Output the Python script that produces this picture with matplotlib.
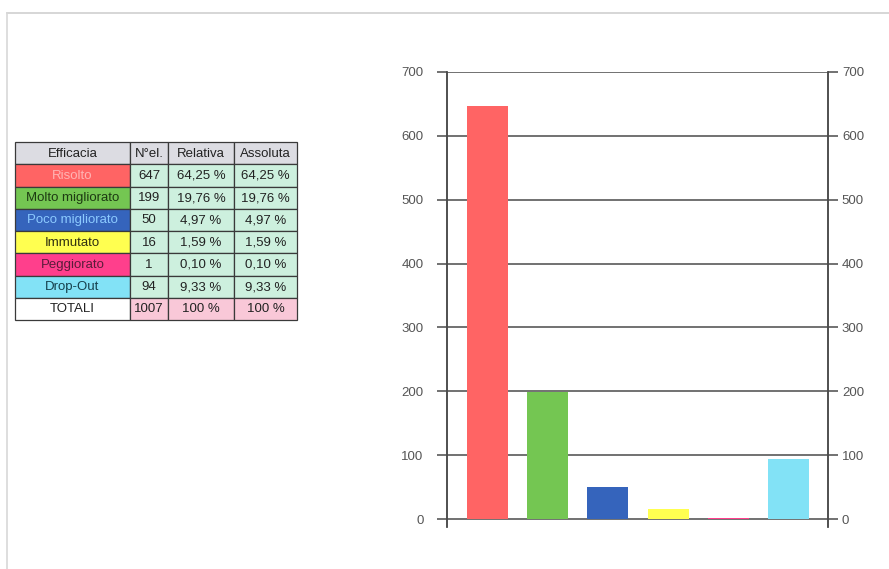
import matplotlib.pyplot as plt
from matplotlib.patches import Rectangle
from matplotlib.lines import Line2D

# Outcome categories and counts
categorie = ["Risolto", "Molto migliorato", "Poco migliorato", "Immutato", "Peggiorato", "Drop-Out"]
n_el = [647, 199, 50, 16, 1, 94]
relativa = ["64,25 %", "19,76 %", "4,97 %", "1,59 %", "0,10 %", "9,33 %"]
assoluta = ["64,25 %", "19,76 %", "4,97 %", "1,59 %", "0,10 %", "9,33 %"]
totale = 1007

colori = ["#ff6464", "#74c652", "#3564bc", "#ffff50", "#ff3f8c", "#82e2f6"]
colori_testo = ["#ffb4b4", "#1d3a12", "#8ccaff", "#303010", "#5a1c3a", "#16404c"]
y_ticks = [0, 100, 200, 300, 400, 500, 600, 700]

W, H = 889, 569
fig = plt.figure(figsize=(W / 100, H / 100), dpi=100)

# Overlay in pixel space for the frame and the table
ov = fig.add_axes([0, 0, 1, 1])
ov.set_xlim(0, W)
ov.set_ylim(H, 0)
ov.axis("off")

ov.add_line(Line2D([7, 889], [13, 13], color="#cfcfcf", lw=1.2))
ov.add_line(Line2D([7, 7], [13, 569], color="#d8d8d8", lw=1.2))

# Table
col_x = [15, 130, 168, 234, 297]
top = 142
row_h = 22.25
fnt = ["Liberation Sans Narrow", "Liberation Sans", "DejaVu Sans"]
fs = 9.5
bordo = "#3a3a3a"


def cella(c, r, testo, bg, fg):
    x0, x1 = col_x[c], col_x[c + 1]
    y0 = top + r * row_h
    ov.add_patch(Rectangle((x0, y0), x1 - x0, row_h, facecolor=bg,
                           edgecolor=bordo, lw=0.9))
    ov.text((x0 + x1) / 2, y0 + row_h / 2 + 0.5, testo, ha="center", va="center",
            fontsize=fs, color=fg, family=fnt)


intest = ["Efficacia", "N°el.", "Relativa", "Assoluta"]
for c, t in enumerate(intest):
    cella(c, 0, t, "#dcdce2", "#222222")

menta = "#cdf0de"
for i, cat in enumerate(categorie):
    cella(0, i + 1, cat, colori[i], colori_testo[i])
    cella(1, i + 1, str(n_el[i]), menta, "#222222")
    cella(2, i + 1, relativa[i], menta, "#222222")
    cella(3, i + 1, assoluta[i], menta, "#222222")

rosa = "#f9c8d8"
cella(0, 7, "TOTALI", "white", "#222222")
cella(1, 7, str(totale), rosa, "#222222")
cella(2, 7, "100 %", rosa, "#222222")
cella(3, 7, "100 %", rosa, "#222222")

# Bar chart
ax = fig.add_axes([447 / W, 1 - 519 / H - 8 / H, (828 - 447) / W, (519 - 72 + 8) / H])
x = list(range(len(categorie)))
ax.bar(x, n_el, width=0.68, color=colori, zorder=3)
ax.set_xlim(-0.67, 5.65)
ax.set_ylim(-700 * 8 / 447, 700)
ax.set_yticks(y_ticks)
ax.set_xticks([])
ax.grid(axis="y", color="#4a4a4a", lw=1.1, zorder=1)

# Second y axis on the right, same scale
ax2 = ax.twinx()
ax2.set_ylim(ax.get_ylim())
ax2.set_yticks(y_ticks)

for a in (ax, ax2):
    a.spines["top"].set_visible(False)
    a.spines["bottom"].set_visible(False)
    for s in ["left", "right"]:
        a.spines[s].set_color("#4a4a4a")
        a.spines[s].set_linewidth(1.1)
    for lab in a.get_yticklabels():
        lab.set_family(["Liberation Sans Narrow", "Liberation Sans"])

ax.tick_params(axis="y", length=7, width=1.1, color="#4a4a4a",
               labelsize=9.5, labelcolor="#555555", pad=10)
ax2.tick_params(axis="y", length=7, width=1.1, color="#4a4a4a",
                labelsize=9.5, labelcolor="#555555", pad=3)

fig.savefig("out.png", dpi=100)
